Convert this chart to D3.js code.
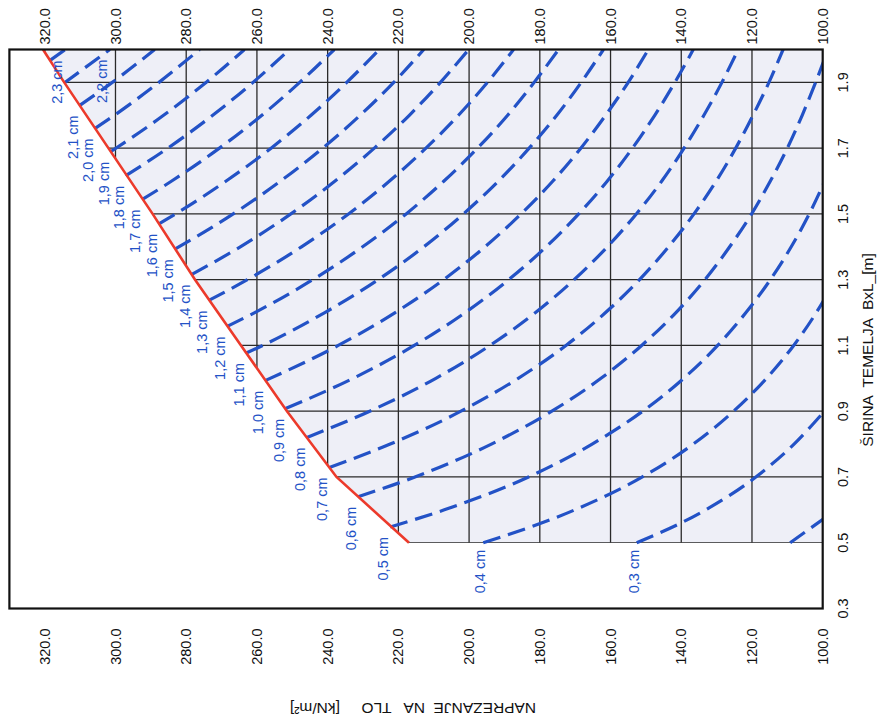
<!DOCTYPE html>
<html>
<head>
<meta charset="utf-8">
<script src="https://cdn.jsdelivr.net/npm/d3@7"></script>
<style>
  html, body { margin: 0; padding: 0; background: #ffffff; }
  svg { display: block; font-family: "Liberation Sans", Arial, sans-serif; }
</style>
</head>
<body>
<svg id="chart" width="888" height="723"></svg>
<script>
// Soil pressure axis (kN/m²) and footing width axis (m)
const stressTicks = [320, 300, 280, 260, 240, 220, 200, 180, 160, 140, 120, 100];
const widthTicks = [0.3, 0.5, 0.7, 0.9, 1.1, 1.3, 1.5, 1.7, 1.9];
const gridWidths = [0.5, 0.7, 0.9, 1.1, 1.3, 1.5, 1.7, 1.9];

// Limit line (red): allowed pressure for each footing width
const limitWidth  = [0.5, 0.7, 0.9, 1.1, 1.3, 1.5, 1.7, 1.9, 2.0];
const limitStress = [217, 237.5, 251.5, 264.5, 277.5, 289.5, 302, 314.5, 320.5];

// Settlement isolines (cm): footing width and pressure along each line
const isoSettlement = [0.2, 0.3, 0.4, 0.5, 0.6, 0.7, 0.8, 0.9, 1.0, 1.1, 1.2,
                       1.3, 1.4, 1.5, 1.6, 1.7, 1.8, 1.9, 2.0, 2.1, 2.2, 2.3];
const isoWidth = [
  [0.5, 0.6],
  [0.5, 0.6, 0.7, 0.8, 0.9],
  [0.5, 0.6, 0.7, 0.8, 0.9, 1.0, 1.1, 1.2, 1.3],
  [0.548, 0.6, 0.7, 0.8, 0.9, 1.0, 1.1, 1.2, 1.3, 1.4, 1.5, 1.6],
  [0.64, 0.7, 0.8, 0.9, 1.0, 1.1, 1.2, 1.3, 1.4, 1.5, 1.6, 1.7, 1.8, 1.9, 2.0],
  [0.729, 0.8, 0.9, 1.0, 1.1, 1.2, 1.3, 1.4, 1.5, 1.6, 1.7, 1.8, 1.9, 2.0],
  [0.82, 0.9, 1.0, 1.1, 1.2, 1.3, 1.4, 1.5, 1.6, 1.7, 1.8, 1.9, 2.0],
  [0.908, 1.0, 1.1, 1.2, 1.3, 1.4, 1.5, 1.6, 1.7, 1.8, 1.9, 2.0],
  [0.993, 1.1, 1.2, 1.3, 1.4, 1.5, 1.6, 1.7, 1.8, 1.9, 2.0],
  [1.077, 1.1, 1.2, 1.3, 1.4, 1.5, 1.6, 1.7, 1.8, 1.9, 2.0],
  [1.158, 1.2, 1.3, 1.4, 1.5, 1.6, 1.7, 1.8, 1.9, 2.0],
  [1.237, 1.3, 1.4, 1.5, 1.6, 1.7, 1.8, 1.9, 2.0],
  [1.316, 1.4, 1.5, 1.6, 1.7, 1.8, 1.9, 2.0],
  [1.393, 1.5, 1.6, 1.7, 1.8, 1.9, 2.0],
  [1.47, 1.5, 1.6, 1.7, 1.8, 1.9, 2.0],
  [1.544, 1.6, 1.7, 1.8, 1.9, 2.0],
  [1.616, 1.7, 1.8, 1.9, 2.0],
  [1.689, 1.8, 1.9, 2.0],
  [1.76, 1.8, 1.9, 2.0],
  [1.83, 1.9, 2.0],
  [1.898, 2.0],
  [1.967, 2.0]
];
const isoStress = [
  [109.2, 96.2],
  [152.6, 133.1, 118.9, 108.1, 99.5],
  [196.0, 170.1, 151.0, 136.6, 125.2, 115.9, 108.2, 101.8, 96.3],
  [222.3, 207.0, 183.2, 165.2, 150.9, 139.3, 129.7, 121.7, 114.8, 108.9, 103.8, 99.4],
  [231.4, 215.3, 193.7, 176.6, 162.7, 151.2, 141.5, 133.3, 126.3, 120.1, 114.8, 110.0, 105.8, 102.0, 98.5],
  [239.5, 222.3, 202.3, 186.1, 172.6, 161.4, 151.8, 143.6, 136.4, 130.1, 124.6, 119.7, 115.2, 111.2],
  [245.9, 228.1, 209.4, 194.1, 181.2, 170.3, 160.9, 152.7, 145.5, 139.2, 133.6, 128.5, 123.9],
  [251.9, 232.8, 215.5, 201.1, 188.8, 178.2, 169.0, 160.9, 153.8, 147.5, 141.8, 136.6],
  [257.7, 237.0, 220.9, 207.2, 195.5, 185.3, 176.3, 168.4, 161.4, 155.0, 149.3],
  [263.0, 258.4, 240.8, 225.7, 212.8, 201.6, 191.7, 183.0, 175.2, 168.3, 162.0],
  [268.4, 260.6, 244.2, 230.1, 217.8, 207.1, 197.6, 189.1, 181.6, 174.7],
  [273.6, 262.7, 247.4, 234.1, 222.5, 212.2, 203.0, 194.8, 187.4],
  [278.4, 264.7, 250.4, 237.9, 226.8, 216.9, 208.1, 200.1],
  [283.2, 266.7, 253.3, 241.4, 230.8, 221.3, 212.8],
  [287.7, 283.0, 268.7, 256.0, 244.7, 234.6, 225.4],
  [292.4, 284.1, 270.6, 258.6, 247.9, 238.1],
  [297.1, 285.2, 272.5, 261.1, 250.8],
  [301.4, 286.4, 274.4, 263.5],
  [305.8, 300.3, 287.7, 276.2],
  [310.1, 300.9, 288.9],
  [314.5, 301.6],
  [318.5, 314.2]
];

const svg = d3.select("#chart");
const frame = { left: 9.4, right: 822.7, top: 49.5, bottom: 608.5 };

// Pressure runs left→right (high to low), width runs bottom→top
const x = d3.scaleLinear().domain([330, 100]).range([frame.left, frame.right]);
const y = d3.scaleLinear().domain([0.3, 2.0]).range([frame.bottom, frame.top]);

const fmtTick = d3.format(".1f");
const fmtCm = v => d3.format(".1f")(v).replace(".", ",") + " cm";

const limitPts = limitWidth.map((b, i) => [limitStress[i], b]);
const wMin = d3.min(limitWidth), wMax = d3.max(limitWidth);
const sMin = d3.min(stressTicks);

// Admissible region: right of the limit line, above the smallest width
const regionPts = limitPts.concat([[sMin, wMax], [sMin, wMin]]);
const regionPath = d3.line().x(d => x(d[0])).y(d => y(d[1]))(regionPts) + "Z";

const defs = svg.append("defs");
defs.append("clipPath").attr("id", "region").append("path").attr("d", regionPath);
defs.append("clipPath").attr("id", "frameClip").append("rect")
  .attr("x", frame.left).attr("y", frame.top)
  .attr("width", frame.right - frame.left).attr("height", frame.bottom - frame.top);

svg.append("path").attr("d", regionPath).attr("fill", "#eeeff7");

// Grid inside the admissible region
const grid = svg.append("g").attr("clip-path", "url(#region)")
  .attr("stroke", "#2a2a2a").attr("stroke-width", 1.3);
grid.selectAll("line.v").data(stressTicks).join("line").attr("class", "v")
  .attr("x1", d => x(d)).attr("x2", d => x(d))
  .attr("y1", y(wMin)).attr("y2", y(wMax));
grid.selectAll("line.h").data(gridWidths).join("line").attr("class", "h")
  .attr("x1", frame.left).attr("x2", frame.right)
  .attr("y1", d => y(d)).attr("y2", d => y(d));

// Settlement isolines
const iso = isoSettlement.map((s, i) => ({
  s, pts: isoWidth[i].map((b, j) => [isoStress[i][j], b])
}));
const isoLine = d3.line().x(d => x(d[0])).y(d => y(d[1])).curve(d3.curveMonotoneX);
svg.append("g").attr("clip-path", "url(#frameClip)")
  .selectAll("path").data(iso).join("path")
  .attr("d", d => isoLine(d.pts))
  .attr("fill", "none").attr("stroke", "#2352c6").attr("stroke-width", 3.2)
  .attr("stroke-dasharray", "18,8");

// Limit line
svg.append("path")
  .attr("d", d3.line().x(d => x(d[0])).y(d => y(d[1]))(limitPts))
  .attr("fill", "none").attr("stroke", "#ec3a2b").attr("stroke-width", 2.6);

// Frame
svg.append("rect")
  .attr("x", frame.left).attr("y", frame.top)
  .attr("width", frame.right - frame.left).attr("height", frame.bottom - frame.top)
  .attr("fill", "none").attr("stroke", "#111").attr("stroke-width", 2.2);

// Isoline labels (rotated, reading upward)
const labels = svg.append("g").attr("fill", "#2352c6").style("font-size", "14.5px");
iso.filter(d => d.s >= 0.3).forEach(d => {
  const first = d.pts[0], last = d.pts[d.pts.length - 1];
  let px, py;
  if (d.s === 2.2) { px = x(last[0]) - 3; py = y(last[1]) + 10; }
  else if (d.s === 2.3) { px = x(first[0]) + 12; py = y(first[1]); }
  else if (d.s < 0.45) { px = x(first[0]) + 2; py = y(first[1]) + 7; }
  else { px = x(first[0]) - 2; py = y(first[1]) + 10; }
  labels.append("text")
    .attr("transform", `translate(${px},${py}) rotate(-90)`)
    .attr("text-anchor", "end")
    .text(fmtCm(d.s));
});

// Pressure tick labels, top and bottom
const tickStyle = g => g.attr("fill", "#111").style("font-size", "14.5px");
svg.append("g").call(tickStyle).selectAll("text").data(stressTicks).join("text")
  .attr("transform", d => `translate(${x(d)},${frame.top - 5}) rotate(-90)`)
  .attr("dy", "0.35em").attr("text-anchor", "start").text(fmtTick);
svg.append("g").call(tickStyle).selectAll("text").data(stressTicks).join("text")
  .attr("transform", d => `translate(${x(d)},${frame.bottom + 20}) rotate(-90)`)
  .attr("dy", "0.35em").attr("text-anchor", "end").text(fmtTick);

// Width tick labels on the right
svg.append("g").call(tickStyle).selectAll("text").data(widthTicks).join("text")
  .attr("transform", d => `translate(${frame.right + 20},${y(d)}) rotate(-90)`)
  .attr("dy", "0.35em").attr("text-anchor", "middle").text(d => d3.format(".1f")(d));

// Axis titles
svg.append("text")
  .attr("transform", `translate(868,350) rotate(-90)`)
  .attr("dy", "0.35em").attr("text-anchor", "middle")
  .style("font-size", "15.5px").attr("fill", "#111")
  .style("white-space", "pre")
  .text("ŠIRINA  TEMELJA  BxL_[m]");
svg.append("text")
  .attr("transform", `translate(413,708) rotate(180)`)
  .attr("dy", "0.35em").attr("text-anchor", "middle")
  .style("font-size", "15.5px").attr("fill", "#111")
  .style("white-space", "pre")
  .text("NAPREZANJE  NA   TLO     [kN/m²]");
</script>
</body>
</html>
